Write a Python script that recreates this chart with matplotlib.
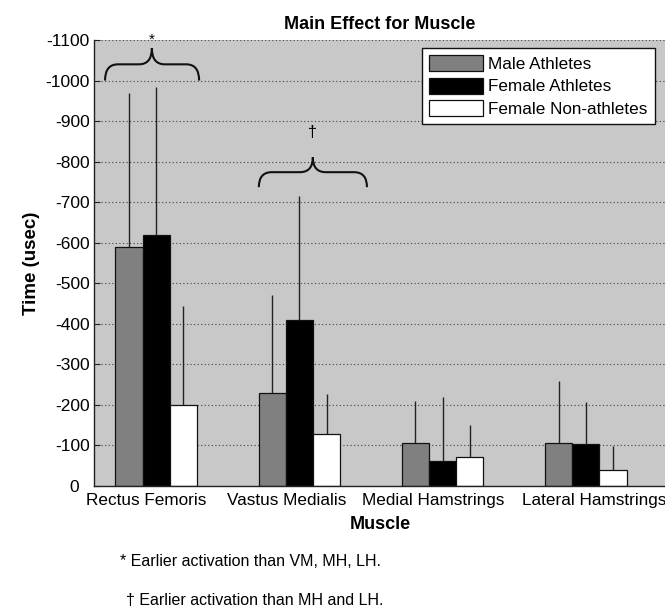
import matplotlib
matplotlib.use("Agg")
import matplotlib.pyplot as plt
import numpy as np
from matplotlib.path import Path
from matplotlib.patches import PathPatch

plt.rcParams['font.family'] = ['Liberation Sans', 'DejaVu Sans']

# ---- data ----
muscles = ["Rectus Femoris", "Vastus Medialis", "Medial Hamstrings", "Lateral Hamstrings"]
groups = ["Male Athletes", "Female Athletes", "Female Non-athletes"]
male_mean = [-590, -229, -107, -107]
female_mean = [-620, -409, -62, -103]
nonath_mean = [-200, -128, -72, -39]
male_sd = [380, 242, 103, 153]
female_sd = [365, 306, 157, 103]
nonath_sd = [244, 98, 78, 60]
ytick_values = [0, -100, -200, -300, -400, -500, -600, -700, -800, -900, -1000, -1100]
ytick_labels = ["0  ", "-100", "-200", "-300", "-400", "-500", "-600", "-700", "-800",
                "-900", "-1000", "-1100"]
footnotes = ["* Earlier activation than VM, MH, LH.", "\u2020 Earlier activation than MH and LH."]

means = [male_mean, female_mean, nonath_mean]
sds = [male_sd, female_sd, nonath_sd]
colors = ["#808080", "#000000", "#ffffff"]

fig = plt.figure(figsize=(6.65, 6.09), dpi=100)
ax = fig.add_axes([94/665, 123/609, 572/665, 446/609])
ax.set_facecolor("#c8c8c8")

x = np.arange(1, len(muscles) + 1)
w = 0.19
offsets = [-w, 0, w]
for m, s, c, off, lab in zip(means, sds, colors, offsets, groups):
    ax.bar(x + off, m, width=w, color=c, edgecolor="#111111", linewidth=0.9, label=lab, zorder=2)
    ax.errorbar(x + off, m, yerr=[s, np.zeros(len(s))], fmt="none", ecolor="#222222",
                elinewidth=1.0, capsize=0, zorder=3)

ax.set_xlim(0.566, 4.56)
ax.set_ylim(0, -1100)
ax.set_yticks(ytick_values)
ax.set_yticklabels(ytick_labels)
ax.set_xticks(x)
ax.set_xticklabels([])
ax.tick_params(axis="y", direction="in", length=4, labelsize=12.5, pad=3, color="#222222")
ax.tick_params(axis="x", length=0)
# category labels (slightly shifted as in the original)
label_shift_px = [-10, -13, -9, 8]
for xi, name, dx in zip(x, muscles, label_shift_px):
    ax.annotate(name, xy=(xi, 0), xycoords=("data", "axes fraction"),
                xytext=(dx * 0.72, -10.3), textcoords="offset points",
                ha="center", va="center", fontsize=12.3, annotation_clip=False)

ax.yaxis.grid(True, linestyle=(0, (1, 2.2)), color="#404040", linewidth=0.8, zorder=0)
ax.set_axisbelow(True)
for sp in ["top", "right"]:
    ax.spines[sp].set_visible(False)
for sp in ["left", "bottom"]:
    ax.spines[sp].set_color("#222222")
    ax.spines[sp].set_linewidth(1.0)

ax.set_title("Main Effect for Muscle", fontsize=13, fontweight="bold", pad=8)
ax.set_xlabel("Muscle", fontsize=13, fontweight="bold", labelpad=18)
ax.set_ylabel("Time (usec)", fontsize=13.5, fontweight="bold", labelpad=4)

# braces
def brace(ax, x0, x1, xc, ytip, ymid, ypeak, r=0.09):
    verts = [(x0, ytip), (x0, ymid), (x0 + r, ymid),
             (xc - r, ymid), (xc, ymid), (xc, ypeak),
             (xc, ymid), (xc + r, ymid),
             (x1 - r, ymid), (x1, ymid), (x1, ytip)]
    codes = [Path.MOVETO, Path.CURVE3, Path.CURVE3,
             Path.LINETO, Path.CURVE3, Path.CURVE3,
             Path.CURVE3, Path.CURVE3,
             Path.LINETO, Path.CURVE3, Path.CURVE3]
    ax.add_patch(PathPatch(Path(verts, codes), fill=False, edgecolor="#111111",
                           linewidth=1.5, zorder=4, clip_on=False))

brace(ax, 0.643, 1.30, 0.97, -1000, -1040, -1080)
brace(ax, 1.717, 2.472, 2.094, -737, -774, -811)
ax.text(0.97, -1083, "*", ha="center", va="bottom", fontsize=11, clip_on=False)
ax.text(2.094, -873, "\u2020", ha="center", va="center", fontsize=11.5)

leg = ax.legend(loc="upper right", bbox_to_anchor=(0.98, 0.981), borderaxespad=0,
                fontsize=12.3, fancybox=False, framealpha=1, edgecolor="#111111",
                handlelength=3.2, handleheight=1.05, labelspacing=0.33,
                handletextpad=0.3, borderpad=0.4)
leg.get_frame().set_linewidth(1.0)

fig.text(120/665, 1 - 562/609, footnotes[0], fontsize=11.5, va="center", ha="left")
fig.text(126/665, 1 - 601/609, footnotes[1], fontsize=11.5, va="center", ha="left")

fig.savefig("out.png", dpi=100)
